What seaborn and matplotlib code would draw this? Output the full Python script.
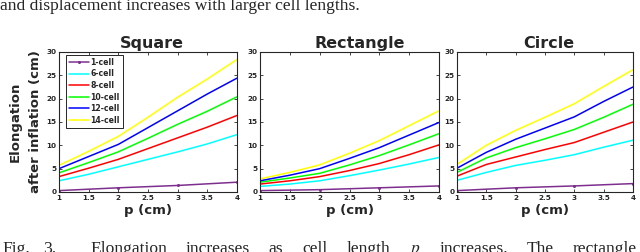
import matplotlib
matplotlib.use("Agg")
import matplotlib.pyplot as plt
import numpy as np
import pandas as pd
import seaborn as sns

# p values (cm)
p_fine = [1.0, 1.5, 2.0, 2.5, 3.0, 3.5, 4.0]
p_coarse = [1.0, 2.0, 3.0, 4.0]

cell_labels = ["1-cell", "6-cell", "8-cell", "10-cell", "12-cell", "14-cell"]
cell_colors = ["#7E2F8E", "#00FFFF", "#FF0000", "#00FF00", "#0000FF", "#FFFF00"]

# elongation after inflation (cm)
square_1 = [0.3, 0.9, 1.4, 2.1]
square_6 = [2.4, 3.8, 5.4, 7.0, 8.6, 10.3, 12.3]
square_8 = [3.3, 5.1, 7.0, 9.3, 11.6, 13.9, 16.4]
square_10 = [4.1, 6.3, 8.6, 11.5, 14.5, 17.3, 20.4]
square_12 = [5.0, 7.6, 10.2, 13.8, 17.4, 21.0, 24.4]
square_14 = [5.7, 8.7, 11.9, 16.0, 20.3, 24.2, 28.4]

rect_1 = [0.3, 0.5, 0.9, 1.3]
rect_6 = [1.2, 1.7, 2.4, 3.5, 4.7, 6.0, 7.4]
rect_8 = [1.7, 2.4, 3.3, 4.6, 6.1, 8.0, 10.1]
rect_10 = [2.1, 3.0, 4.0, 5.8, 7.8, 10.1, 12.5]
rect_12 = [2.4, 3.6, 5.0, 7.2, 9.5, 12.2, 14.9]
rect_14 = [2.8, 4.2, 5.8, 8.3, 11.0, 14.2, 17.4]

circle_1 = [0.3, 0.9, 1.3, 1.8]
circle_6 = [2.5, 4.2, 5.7, 6.8, 8.0, 9.6, 11.1]
circle_8 = [3.4, 5.9, 7.5, 9.1, 10.6, 12.8, 15.0]
circle_10 = [4.2, 7.3, 9.5, 11.4, 13.4, 16.0, 18.8]
circle_12 = [5.1, 8.5, 11.3, 13.7, 16.1, 19.4, 22.5]
circle_14 = [5.9, 10.0, 13.2, 16.0, 18.9, 22.6, 26.2]

shapes = ["Square", "Rectangle", "Circle"]
shape_series = {
    "Square": [square_1, square_6, square_8, square_10, square_12, square_14],
    "Rectangle": [rect_1, rect_6, rect_8, rect_10, rect_12, rect_14],
    "Circle": [circle_1, circle_6, circle_8, circle_10, circle_12, circle_14],
}
title_x = [0.52, 0.56, 0.52]

# caption lines of the page around the figure
caption_top = "and displacement increases with larger cell lengths."
caption_words = ["Elongation", "increases", "as", "cell", "length", "$p$",
                 "increases.", "The", "rectangle"]

sns.set_theme(style="ticks")
plt.rcParams["font.family"] = ["DejaVu Sans"]
plt.rcParams["mathtext.fontset"] = "stix"
plt.rcParams.update({
    "xtick.direction": "in", "ytick.direction": "in",
    "xtick.top": True, "ytick.right": True,
    "xtick.major.size": 2, "ytick.major.size": 2,
    "xtick.major.width": 0.6, "ytick.major.width": 0.6,
    "axes.linewidth": 0.8, "axes.edgecolor": "#262626",
})

fig = plt.figure(figsize=(6.4, 2.52), dpi=100)
W, H = 640, 252
boxes = [(59, 237), (260, 439), (457, 633)]
top_px, bot_px = 52, 192

for i, shape in enumerate(shapes):
    x0, x1 = boxes[i]
    ax = fig.add_axes([x0 / W, 1 - bot_px / H, (x1 - x0) / W, (bot_px - top_px) / H])
    for label, color, vals in zip(cell_labels, cell_colors, shape_series[shape]):
        p = p_coarse if label == "1-cell" else p_fine
        df = pd.DataFrame({"p": p, "elong": vals})
        sns.lineplot(data=df, x="p", y="elong", ax=ax, color=color, lw=1.1,
                     label=label, legend=False,
                     marker="o" if label == "1-cell" else None,
                     markersize=2.2, markeredgewidth=0)
    ax.set_xlim(1, 4)
    ax.set_ylim(0, 30)
    ax.set_xticks(np.arange(1, 4.01, 0.5))
    ax.set_xticklabels(["1", "1.5", "2", "2.5", "3", "3.5", "4"])
    ax.set_yticks(np.arange(0, 31, 5))
    ax.tick_params(labelsize=5.2, pad=2, labelcolor="#262626")
    for t in ax.get_xticklabels() + ax.get_yticklabels():
        t.set_fontweight("bold")
    ax.set_xlabel("p (cm)", fontsize=9.5, fontweight="bold", labelpad=2)
    ax.set_ylabel("")
    ax.set_title(shape, fontsize=11.5, fontweight="bold", pad=3, x=title_x[i])
    if i == 0:
        ax.set_ylabel("Elongation\nafter inflation (cm)", fontsize=9.5,
                      fontweight="bold", labelpad=3, linespacing=1.75)
        leg = ax.legend(loc="upper left", bbox_to_anchor=(0.04, 0.98),
                        fontsize=5.6, handlelength=2.6, handletextpad=0.1,
                        labelspacing=0.33, borderpad=0.4, frameon=True,
                        fancybox=False, framealpha=1, borderaxespad=0)
        leg.get_frame().set_edgecolor("#262626")
        leg.get_frame().set_linewidth(0.7)
        for t in leg.get_texts():
            t.set_fontweight("bold")

serif = ["Liberation Serif", "DejaVu Serif"]
fs = 12.6
fig.text(0.0, 1 - 10 / H, caption_top, family=serif, fontsize=fs,
         va="baseline", ha="left")

# bottom caption line, justified between x=90 and x=637
base_y = 1 - 253 / H
fig.text(2 / W, base_y, "Fig.", family=serif, fontsize=fs, va="baseline")
fig.text(43 / W, base_y, "3.", family=serif, fontsize=fs, va="baseline")
fig.canvas.draw()
renderer = fig.canvas.get_renderer()
word_texts = [fig.text(0, base_y, w, family=serif, fontsize=fs, va="baseline")
              for w in caption_words]
widths = [t.get_window_extent(renderer).width for t in word_texts]
gap = (637 - 90 - sum(widths)) / (len(caption_words) - 1)
x = 90.0
for t, w in zip(word_texts, widths):
    t.set_x(x / W)
    x += w + gap

fig.savefig("out.png", dpi=100)
